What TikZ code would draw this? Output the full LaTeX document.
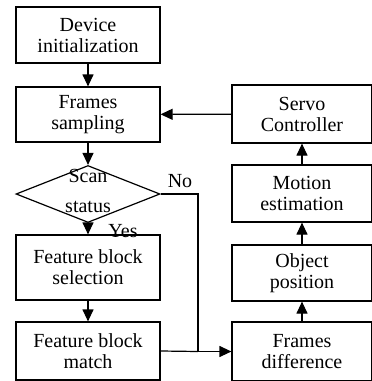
\documentclass[tikz,border=0pt]{standalone}
\usepackage{fontspec}
\setmainfont{Liberation Serif}
\usetikzlibrary{shapes.geometric,arrows.meta}
\begin{document}
\begin{tikzpicture}[x=1pt,y=1pt,
  box/.style={draw,line width=1.2pt,minimum width=144pt,inner sep=0pt,align=center,
    font=\fontsize{20}{21}\selectfont},
  rbox/.style={box,minimum width=140pt},
  arr/.style={line width=1.2pt,-{Triangle[length=12pt,width=11pt]}},
  lin/.style={line width=1.2pt},
  lbl/.style={font=\fontsize{20}{21}\selectfont,inner sep=0pt}]
\useasboundingbox (0,0) rectangle (372,-381);
% left column
\node[box,minimum height=56pt] (init) at (88,-35) {Device\\initialization};
\node[box,minimum height=55pt] (samp) at (88,-114.5) {Frames\\sampling};
\node[draw,diamond,line width=1.2pt,minimum width=144pt,minimum height=57pt,inner sep=0pt] (scan) at (88,-194) {};
\node[lbl,align=center,font=\fontsize{20}{30}\selectfont] (scant) at (88,-191) {Scan\\status};
\node[box,minimum height=65pt] (sel) at (88,-267.5) {Feature block\\selection};
\node[box,minimum height=58pt] (match) at (88,-351) {Feature block\\match};
% right column
\node[rbox,minimum height=58pt] (servo) at (302,-114) {Servo\\Controller};
\node[rbox,minimum height=57pt] (motion) at (302,-193.5) {Motion\\estimation};
\node[rbox,minimum height=56pt] (obj) at (302,-273) {Object\\position};
\node[rbox,minimum height=59pt] (diff) at (302,-351.5) {Frames\\difference};
% connectors
\draw[arr] (init) -- (samp);
\draw[arr] (samp) -- (scan);
\draw[arr] (scan) -- (sel);
\draw[arr] (sel) -- (match);
\draw[arr] (servo) -- (samp);
\draw[arr] (motion) -- (servo);
\draw[arr] (obj) -- (motion);
\draw[arr] (diff) -- (obj);
\coordinate (j) at (198,-351.5);
\draw[lin] (scan.east) -| (j);
\draw[lin] (match.east) -- (j);
\draw[arr] (j) -- (diff.west);
% labels
\node[lbl] (no) at (180,-181) {No};
\node[lbl] (yes) at (123,-231) {Yes};
\end{tikzpicture}
\end{document}
